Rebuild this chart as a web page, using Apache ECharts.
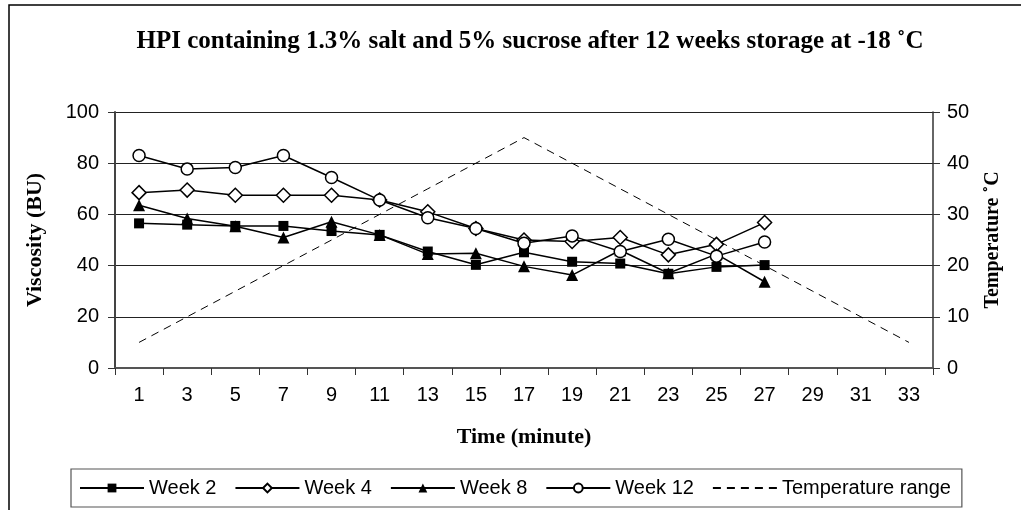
<!DOCTYPE html>
<html>
<head>
<meta charset="utf-8">
<script src="https://cdn.jsdelivr.net/npm/echarts@6/dist/echarts.min.js"></script>
<style>html,body{margin:0;padding:0;background:#fff;}#c{width:1021px;height:510px;}</style>
</head>
<body>
<div id="c"></div>
<script>
var categories = ['1','3','5','7','9','11','13','15','17','19','21','23','25','27','29','31','33'];
var week2 = [56.5, 56, 55.5, 55.5, 53.5, 52, 45.5, 40.3, 45.2, 41.5, 40.8, 36.8, 39.5, 40.2];
var week4 = [68.5, 69.5, 67.5, 67.5, 67.5, 65.6, 61, 54.5, 50, 49.4, 51, 44.2, 48.3, 56.8];
var week8 = [63.6, 58.4, 55.4, 51, 57.1, 52, 44.5, 44.8, 39.7, 36.3, 46, 37, 44.5, 33.7];
var week12 = [83, 77.7, 78.3, 83, 74.4, 65.6, 58.7, 54.5, 48.7, 51.6, 45.5, 50.3, 43.7, 49.2];
var temperature = [5, 10, 15, 20, 25, 30, 35, 40, 45, 40, 35, 30, 25, 20, 15, 10, 5];
var leftTicks = [0, 20, 40, 60, 80, 100];
var rightTicks = [0, 10, 20, 30, 40, 50];

var chart = echarts.init(document.getElementById('c'), null, {renderer: 'canvas'});
var sans = 'Liberation Sans';
var serif = 'Liberation Serif';
function lineSeries(name, data, symbol, size, hollow) {
  return {
    name: name, type: 'line', data: data, yAxisIndex: 0,
    symbol: symbol, symbolSize: size, showAllSymbol: true,
    lineStyle: {color: '#000', width: 1.5},
    itemStyle: hollow ? {color: '#fff', borderColor: '#000', borderWidth: 1.5} : {color: '#000', borderColor: '#000', borderWidth: 0},
    emphasis: {disabled: true},
    animation: false
  };
}
var option = {
  animation: false,
  backgroundColor: '#fff',
  title: {
    text: 'HPI containing 1.3% salt and 5% sucrose after 12 weeks storage at -18 \u02DAC',
    left: 525, textAlign: 'center', top: 24,
    textStyle: {fontFamily: serif, fontWeight: 'bold', fontSize: 25, color: '#000'}
  },
  graphic: [{
    type: 'rect', shape: {x: 9, y: 5, width: 1200, height: 700},
    style: {fill: 'none', stroke: '#000', lineWidth: 1.5}, silent: true
  }],
  legend: {
    left: 71, top: 469,
    padding: [9, 11, 9, 8],
    itemGap: 18,
    itemWidth: 64, itemHeight: 11,
    borderColor: '#555', borderWidth: 1.2, backgroundColor: '#fff',
    textStyle: {fontFamily: sans, fontSize: 20, color: '#000'},
    data: ['Week 2', 'Week 4', 'Week 8', 'Week 12',
      {name: 'Temperature range', itemStyle: {color: 'rgba(0,0,0,0)', borderColor: 'rgba(0,0,0,0)', borderWidth: 0}}]
  },
  grid: {left: 115, right: 88, top: 112, bottom: 142, containLabel: false},
  xAxis: {
    type: 'category', data: categories, boundaryGap: true,
    name: 'Time (minute)', nameLocation: 'middle', nameGap: 58,
    nameTextStyle: {fontFamily: serif, fontWeight: 'bold', fontSize: 22, color: '#000'},
    axisLine: {lineStyle: {color: '#555', width: 2}},
    axisTick: {show: true, length: 7, lineStyle: {color: '#333', width: 1}},
    axisLabel: {fontFamily: sans, fontSize: 20, color: '#000', margin: 17, interval: 0}
  },
  yAxis: [{
    type: 'value', min: 0, max: 100, interval: 20, position: 'left',
    name: 'Viscosity (BU)', nameLocation: 'middle', nameGap: 69, nameRotate: 90,
    nameTextStyle: {fontFamily: serif, fontWeight: 'bold', fontSize: 22, color: '#000'},
    axisLine: {show: true, lineStyle: {color: '#444', width: 2}},
    axisTick: {show: true, length: 7, lineStyle: {color: '#333'}},
    axisLabel: {fontFamily: sans, fontSize: 20, color: '#000', margin: 16,
      formatter: function (v) { return leftTicks.indexOf(v) >= 0 ? String(v) : ''; }},
    splitLine: {show: true, lineStyle: {color: '#222', width: 1}}
  }, {
    type: 'value', min: 0, max: 50, interval: 10, position: 'right',
    name: 'Temperature \u02DAC', nameLocation: 'middle', nameGap: 50, nameRotate: 90,
    nameTextStyle: {fontFamily: serif, fontWeight: 'bold', fontSize: 20, color: '#000'},
    axisLine: {show: true, lineStyle: {color: '#333', width: 1.5}},
    axisTick: {show: true, length: 7, lineStyle: {color: '#333'}},
    axisLabel: {fontFamily: sans, fontSize: 20, color: '#000', margin: 14,
      formatter: function (v) { return rightTicks.indexOf(v) >= 0 ? String(v) : ''; }},
    splitLine: {show: false}
  }],
  series: [
    lineSeries('Week 2', week2, 'rect', 10, false),
    lineSeries('Week 4', week4, 'diamond', 14, true),
    lineSeries('Week 8', week8, 'triangle', 12, false),
    lineSeries('Week 12', week12, 'circle', 12, true),
    {
      name: 'Temperature range', type: 'line', data: temperature, yAxisIndex: 1,
      symbol: 'none', lineStyle: {color: '#000', width: 1, type: [8, 6]},
      itemStyle: {color: '#000'}, emphasis: {disabled: true}, animation: false
    }
  ]
};
chart.setOption(option);
</script>
</body>
</html>
